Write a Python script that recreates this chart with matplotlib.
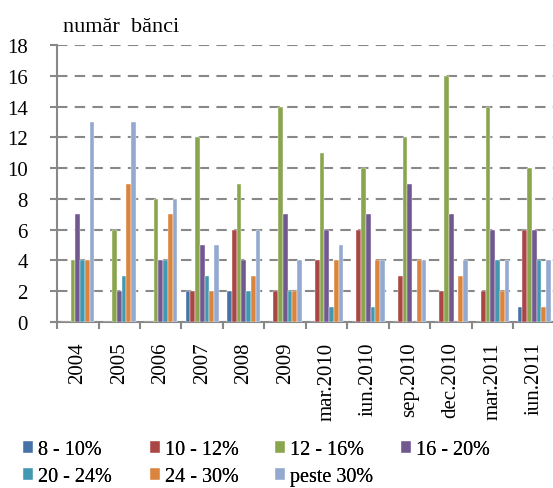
import matplotlib
matplotlib.use("Agg")
import matplotlib.pyplot as plt
import numpy as np

categories = ["2004", "2005", "2006", "2007", "2008", "2009", "mar.2010",
              "iun.2010", "sep.2010", "dec.2010", "mar.2011", "iun.2011"]
s_8_10   = [0, 0, 0, 2, 2, 0, 0, 0, 0, 0, 0, 1]
s_10_12  = [0, 0, 0, 2, 6, 2, 4, 6, 3, 2, 2, 6]
s_12_16  = [4, 6, 8, 12, 9, 14, 11, 10, 12, 16, 14, 10]
s_16_20  = [7, 2, 4, 5, 4, 7, 6, 7, 9, 7, 6, 6]
s_20_24  = [4, 3, 4, 3, 2, 2, 1, 1, 0, 0, 4, 4]
s_24_30  = [4, 9, 7, 2, 3, 2, 4, 4, 4, 3, 2, 1]
s_peste30 = [13, 13, 8, 5, 6, 4, 5, 4, 4, 4, 4, 4]

series_labels = ["8 - 10%", "10 - 12%", "12 - 16%", "16 - 20%",
                 "20 - 24%", "24 - 30%", "peste 30%"]
series = [s_8_10, s_10_12, s_12_16, s_16_20, s_20_24, s_24_30, s_peste30]
colors = ["#4572A7", "#AA4643", "#89A54E", "#71588F", "#4198AF", "#DB843D", "#93A9CF"]
yticks = list(range(0, 19, 2))

plt.rcParams['font.family'] = ['Liberation Serif', 'DejaVu Serif']

fig = plt.figure(figsize=(5.53, 4.89), dpi=100)
ax = fig.add_axes([57/553, 1-323/489, (555-57)/553, (323-46)/489])

x = np.arange(len(categories))
n = len(series)
w = 0.8 / n
handles = []
for i, (vals, c, lab) in enumerate(zip(series, colors, series_labels)):
    h = ax.bar(x - 0.4 + w*(i+0.5), vals, width=w, color=c, label=lab,
               edgecolor="white", linewidth=0.3, zorder=3)
    handles.append(h)

ax.set_xlim(-0.5, len(categories)-0.5)
ax.set_ylim(0, 18)
ax.set_yticks(yticks)
ax.set_yticklabels([str(t) for t in yticks], fontsize=15)
ax.yaxis.grid(True, color="#888888", linestyle=(0, (5, 3.5)), linewidth=1.5, zorder=0)
ax.set_axisbelow(True)

ax.set_xticks(x)
ax.set_xticklabels(categories, rotation=90, fontsize=15)
ax.set_xticks(np.arange(-0.5, len(categories), 1), minor=True)
ax.tick_params(axis='x', which='major', length=0, pad=14)
ax.tick_params(axis='x', which='minor', length=5, width=1.5, color="#888888", direction='out')
ax.tick_params(axis='y', length=5, width=1.5, color="#888888", direction='out', pad=16)

for s in ["top", "right"]:
    ax.spines[s].set_visible(False)
for s in ["left", "bottom"]:
    ax.spines[s].set_color("#888888")
    ax.spines[s].set_linewidth(1.5)

fig.text(63/553, 1-27/489, "număr  bănci", fontsize=16, va='center', ha='left')

# legend: 4 columns laid out row-wise, one legend per column for even spacing
col_x = [23, 150, 275, 401]
for col in range(4):
    idx = [i for i in range(len(series_labels)) if i % 4 == col]
    lg = fig.legend(handles=[handles[i] for i in idx],
                    labels=[series_labels[i] for i in idx],
                    loc='upper left', bbox_to_anchor=(col_x[col]/553, 1-441/489),
                    frameon=False, fontsize=14.5, handlelength=0.5, handleheight=0.5,
                    handletextpad=0.25, labelspacing=0.4, borderaxespad=0, borderpad=0)
    fig.add_artist(lg)

fig.savefig("out.png", dpi=100)
